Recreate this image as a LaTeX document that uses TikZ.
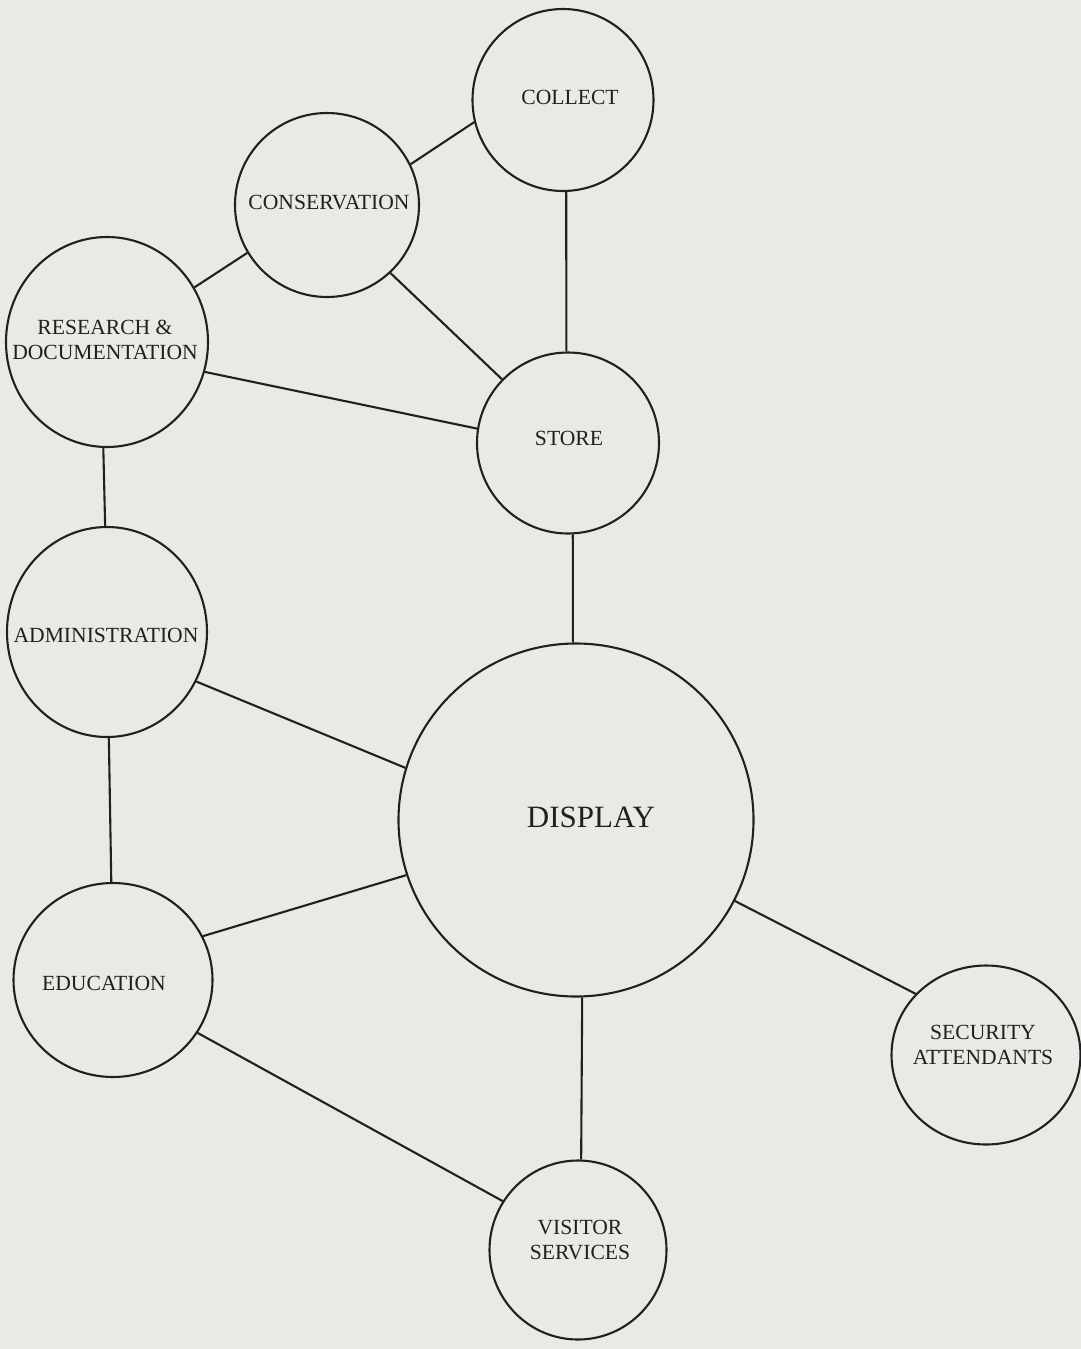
\documentclass[tikz,border=0pt]{standalone}
\usepackage{fontspec}
\setmainfont{Liberation Serif}
\usetikzlibrary{shapes.geometric}
\definecolor{paper}{RGB}{234,233,229}
\definecolor{ink}{RGB}{32,32,32}
\begin{document}
\begin{tikzpicture}[x=0.5pt,y=-0.5pt,
  bub/.style={draw=ink, line width=1.05pt, ellipse, inner sep=0pt},
  lbl/.style={font=\fontsize{10.8}{12.5}\selectfont, text=ink, align=center, inner sep=0pt},
  biglbl/.style={font=\fontsize{15.5}{18}\selectfont, text=ink, inner sep=0pt},
  conn/.style={draw=ink, line width=1.05pt}]
\fill[paper] (0,0) rectangle (1081,1349);
\useasboundingbox (0,0) rectangle (1081,1349);

% circles
\node[bub, minimum width=90.5pt, minimum height=91pt] (collect) at (563,100) {};
\node[bub, minimum width=92pt, minimum height=92pt] (conservation) at (327,205) {};
\node[bub, minimum width=101pt, minimum height=105pt] (research) at (107,342) {};
\node[bub, minimum width=91pt, minimum height=90.5pt] (store) at (568,443) {};
\node[bub, minimum width=100pt, minimum height=105pt] (admin) at (107,632) {};
\node[bub, minimum width=177.5pt, minimum height=176.5pt] (display) at (576,820) {};
\node[bub, minimum width=99.5pt, minimum height=97pt] (education) at (113,980) {};
\node[bub, minimum width=94.5pt, minimum height=89.5pt] (security) at (986,1055) {};
\node[bub, minimum width=88.5pt, minimum height=89.5pt] (visitor) at (578,1250) {};

% labels
\node[lbl] (collectT) at (570,97) {COLLECT};
\node[lbl] (conservationT) at (329,203) {CONSERVATION};
\node[lbl] (researchT) at (105,340) {RESEARCH \&\\DOCUMENTATION};
\node[lbl] (storeT) at (569,438) {STORE};
\node[lbl] (adminT) at (106,635) {ADMINISTRATION};
\node[biglbl] (displayT) at (591,817) {DISPLAY};
\node[lbl] (educationT) at (104,983) {EDUCATION};
\node[lbl] (securityT) at (983,1045) {SECURITY\\ATTENDANTS};
\node[lbl] (visitorT) at (580,1240) {VISITOR\\SERVICES};

% connectors
\draw[conn] (collect.-166) -- (conservation.26.6);
\draw[conn] (conservation.211) -- (research.32);
\draw[conn] (conservation.-47) -- (store.136);
\draw[conn] (collect.-88.7) -- (store.91.9);
\draw[conn] (research.-17.7) -- (store.171);
\draw[conn] (research.-92) -- (admin.91.7);
\draw[conn] (admin.-29.5) -- (display.163.6);
\draw[conn] (admin.-89.4) -- (education.91.7);
\draw[conn] (store.-87.5) -- (display.91);
\draw[conn] (education.26) -- (display.198.7);
\draw[conn] (education.-32.6) -- (visitor.147);
\draw[conn] (display.-27) -- (security.139);
\draw[conn] (display.-88.8) -- (visitor.88.6);
\end{tikzpicture}
\end{document}
